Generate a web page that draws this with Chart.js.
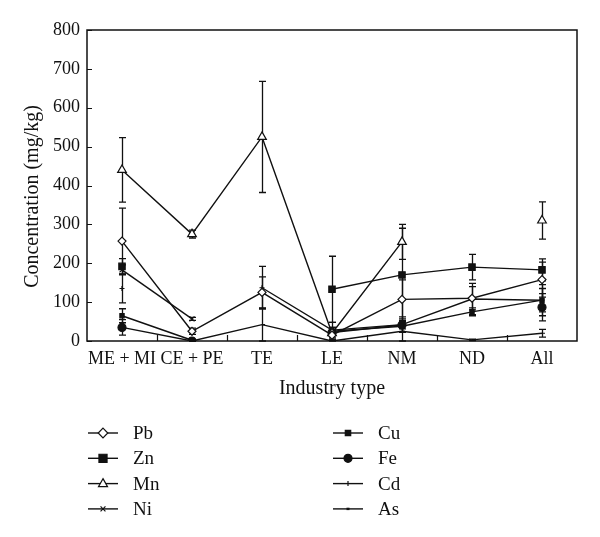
<!DOCTYPE html>
<html><head><meta charset="utf-8">
<script src="https://cdn.jsdelivr.net/npm/chart.js@4.4.1/dist/chart.umd.min.js"></script>
<style>html,body{margin:0;padding:0;background:#fff}#wrap{width:600px;height:537px;position:relative}</style>
</head><body><div id="wrap"><canvas id="c" width="600" height="537"></canvas></div>
<script>
// ---- data ----
const categories = ['ME + MI', 'CE + PE', 'TE', 'LE', 'NM', 'ND', 'All'];
const yTickValues = [0, 100, 200, 300, 400, 500, 600, 700, 800];
const seriesNames = ['Pb', 'Zn', 'Mn', 'Ni', 'Cu', 'Fe', 'Cd', 'As'];
const pb    = [257, 25, 125, 15, 107, 110, 158];
const pbErr = [85, 8, 40, 12, 50, 30, 45];
const zn    = [192, null, null, 133, 170, 190, 183];
const znErr = [20, null, null, 85, 120, 33, 28];
const mn    = [440, 275, 525, 20, 255, null, 310];
const mnErr = [83, 10, 143, 15, 45, null, 48];
const ni    = [183, 57, null, null, null, null, null];
const niErr = [13, 4, null, null, null, null, null];
const cu    = [65, 2, null, 25, 38, 75, 105];
const cuErr = [18, 2, null, 10, 15, 10, 30];
const fe    = [35, 0, null, 22, 41, null, 87];
const feErr = [20, 2, null, 8, 10, null, 35];
const cd    = [135, null, 137, 28, 42, 108, 105];
const cdErr = [37, null, 55, 20, 20, 40, 40];
const as    = [null, 0, 42, 0, 25, 3, 20];
const asErr = [null, 2, 42, 2, 25, 2, 10];
const xTitle = 'Industry type';
const yTitle = 'Concentration (mg/kg)';

const values = [pb, zn, mn, ni, cu, fe, cd, as];
const errors = [pbErr, znErr, mnErr, niErr, cuErr, feErr, cdErr, asErr];
const styles = [
  {pointStyle:'rectRot', radius:4, fill:'#fff'},
  {pointStyle:'rect', radius:4.5, fill:'#111'},
  {pointStyle:'triangle', radius:5, fill:'#fff'},
  {pointStyle:'crossRot', radius:3.5, fill:'#111'},
  {pointStyle:'rect', radius:3, fill:'#111'},
  {pointStyle:'circle', radius:4, fill:'#111'},
  {pointStyle:'cross', radius:2.5, fill:'#111'},
  {pointStyle:'dash', radius:3, fill:'#111'}
];
const INK = '#111';
const FONT = '"Liberation Serif", "DejaVu Serif", serif';

const datasets = seriesNames.map((n, i) => ({
  label: n,
  data: values[i],
  borderColor: INK,
  borderWidth: 1.4,
  pointStyle: styles[i].pointStyle,
  pointRadius: styles[i].radius,
  pointBackgroundColor: styles[i].fill,
  pointBorderColor: INK,
  pointBorderWidth: 1.2,
  spanGaps: false,
  tension: 0,
  fill: false
}));

function drawMarker(ctx, st, x, y) {
  const r = st.radius;
  ctx.save();
  ctx.fillStyle = st.fill; ctx.strokeStyle = INK; ctx.lineWidth = 1.2;
  ctx.beginPath();
  switch (st.pointStyle) {
    case 'rectRot': ctx.moveTo(x, y - r*1.2); ctx.lineTo(x + r*1.2, y); ctx.lineTo(x, y + r*1.2); ctx.lineTo(x - r*1.2, y); ctx.closePath(); ctx.fill(); ctx.stroke(); break;
    case 'rect': { const s = r*0.9; ctx.rect(x - s, y - s, 2*s, 2*s); ctx.fill(); ctx.stroke(); break; }
    case 'triangle': { ctx.moveTo(x, y - r); ctx.lineTo(x + r*0.9, y + r*0.6); ctx.lineTo(x - r*0.9, y + r*0.6); ctx.closePath(); ctx.fill(); ctx.stroke(); break; }
    case 'crossRot': ctx.moveTo(x - r*0.7, y - r*0.7); ctx.lineTo(x + r*0.7, y + r*0.7); ctx.moveTo(x + r*0.7, y - r*0.7); ctx.lineTo(x - r*0.7, y + r*0.7); ctx.stroke(); break;
    case 'circle': ctx.arc(x, y, r, 0, Math.PI*2); ctx.fill(); ctx.stroke(); break;
    case 'cross': ctx.moveTo(x, y - r); ctx.lineTo(x, y + r); ctx.stroke(); break;
    case 'dash': ctx.rect(x - 1.5, y - 1.2, 3, 2.4); ctx.fill(); break;
  }
  ctx.restore();
}

const deco = {
  id: 'deco',
  beforeDatasetsDraw(chart) {
    const {ctx, scales: {x, y}} = chart;
    ctx.save();
    ctx.strokeStyle = INK; ctx.lineWidth = 1.3;
    values.forEach((arr, s) => {
      arr.forEach((v, i) => {
        const e = errors[s][i];
        if (v == null || e == null) return;
        const px = Math.round(x.getPixelForValue(i)) + 0.5;
        const yt = y.getPixelForValue(v + e);
        const yb = y.getPixelForValue(Math.max(0, v - e));
        ctx.beginPath();
        ctx.moveTo(px, yt); ctx.lineTo(px, yb);
        ctx.moveTo(px - 3.5, yt); ctx.lineTo(px + 3.5, yt);
        ctx.moveTo(px - 3.5, yb); ctx.lineTo(px + 3.5, yb);
        ctx.stroke();
      });
    });
    ctx.restore();
  },
  afterDraw(chart) {
    const {ctx, chartArea: a, scales: {x, y}} = chart;
    ctx.save();
    ctx.strokeStyle = INK; ctx.lineWidth = 1.5;
    ctx.strokeRect(a.left, a.top, a.right - a.left, a.bottom - a.top);
    ctx.lineWidth = 1.2;
    ctx.beginPath();
    yTickValues.forEach(t => {
      const py = Math.round(y.getPixelForValue(t)) + 0.5;
      ctx.moveTo(a.left, py); ctx.lineTo(a.left + 5, py);
    });
    const n = categories.length;
    for (let i = 1; i < n; i++) {
      const px = Math.round((x.getPixelForValue(i - 1) + x.getPixelForValue(i)) / 2) + 0.5;
      ctx.moveTo(px, a.bottom); ctx.lineTo(px, a.bottom - 6);
    }
    ctx.stroke();
    // y-axis title
    ctx.save();
    ctx.font = '20px ' + FONT;
    ctx.fillStyle = INK;
    ctx.textAlign = 'center'; ctx.textBaseline = 'middle';
    ctx.translate(33, (a.top + a.bottom) / 2 + 11);
    ctx.rotate(-Math.PI / 2);
    ctx.fillText(yTitle, 0, 0);
    ctx.restore();
    // legend (two columns of four)
    ctx.font = '19px ' + FONT;
    ctx.fillStyle = INK;
    ctx.textBaseline = 'middle';
    ctx.textAlign = 'left';
    const colX = [88, 333];
    const rowY0 = 433, rowDY = 25.3;
    seriesNames.forEach((name, i) => {
      const col = Math.floor(i / 4), row = i % 4;
      const lx = colX[col], ly = rowY0 + row * rowDY;
      ctx.strokeStyle = INK; ctx.lineWidth = 1.4;
      ctx.beginPath(); ctx.moveTo(lx, ly); ctx.lineTo(lx + 30, ly); ctx.stroke();
      drawMarker(ctx, styles[i], lx + 15, ly);
      ctx.fillStyle = INK;
      ctx.fillText(name, lx + 45, ly + 1);
    });
    ctx.restore();
  }
};

new Chart(document.getElementById('c'), {
  type: 'line',
  data: {labels: categories, datasets},
  options: {
    responsive: false,
    animation: false,
    layout: {padding: {top: 30, right: 23, bottom: 136, left: 0}},
    plugins: {legend: {display: false}, tooltip: {enabled: false}},
    scales: {
      x: {
        type: 'category', offset: true,
        grid: {display: false, drawTicks: false},
        border: {display: false},
        ticks: {color: INK, font: {family: FONT, size: 18}, padding: 7, maxRotation: 0, autoSkip: false},
        title: {display: true, text: xTitle, color: INK, font: {family: FONT, size: 20}, padding: {top: 6, bottom: 0}},
        afterFit(s) { s.height = 60; }
      },
      y: {
        min: 0, max: 800,
        afterBuildTicks(s) { s.ticks = yTickValues.map(v => ({value: v})); },
        grid: {display: false, drawTicks: false},
        border: {display: false},
        ticks: {color: INK, font: {family: FONT, size: 18}, padding: 7},
        title: {display: false},
        afterFit(s) { s.width = 87; }
      }
    }
  },
  plugins: [deco]
});
</script>
</body></html>
